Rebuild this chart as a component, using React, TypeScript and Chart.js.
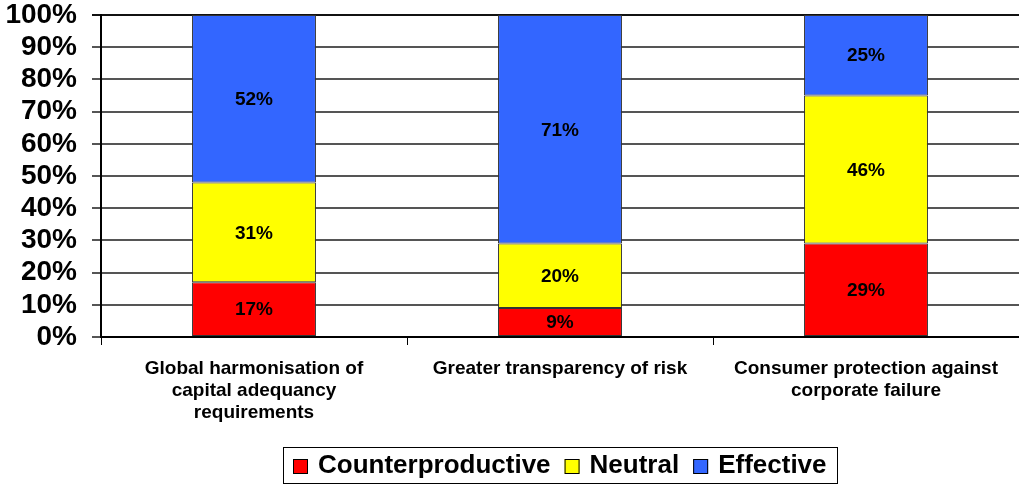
import React, { useEffect, useRef } from "react";
import { Chart, registerables } from "chart.js";

Chart.register(...registerables);

const categories: string[][] = [
  ["Global harmonisation of", "capital adequancy", "requirements"],
  ["Greater transparency of risk"],
  ["Consumer protection against", "corporate failure"],
];
const counterproductive = [17, 9, 29];
const neutral = [31, 20, 46];
const effective = [52, 71, 25];
const seriesNames = ["Counterproductive", "Neutral", "Effective"];
const seriesColors = ["#FF0000", "#FFFF00", "#3366FF"];
const yTicks = [0, 10, 20, 30, 40, 50, 60, 70, 80, 90, 100];

const FONT = "'Liberation Sans', Arial, sans-serif";

const valueLabels = {
  id: "valueLabels",
  afterDatasetsDraw(chart: any) {
    const ctx = chart.ctx;
    ctx.save();
    ctx.font = `bold 19px ${FONT}`;
    ctx.fillStyle = "#000";
    ctx.textAlign = "center";
    ctx.textBaseline = "middle";
    chart.data.datasets.forEach((ds: any, i: number) => {
      const meta = chart.getDatasetMeta(i);
      meta.data.forEach((el: any, j: number) => {
        const v = ds.data[j];
        ctx.fillText(`${v}%`, el.x, (el.y + el.base) / 2 + 1);
      });
    });
    ctx.restore();
  },
};

const boxLegend = {
  id: "boxLegend",
  afterDraw(chart: any) {
    const ctx = chart.ctx;
    const area = chart.chartArea;
    ctx.save();
    ctx.font = `bold 26px ${FONT}`;
    const sq = 15, gap = 10, gap2 = 14, pad = 10;
    const widths = seriesNames.map((n) => ctx.measureText(n).width);
    let total = pad * 2 + gap2 * (seriesNames.length - 1);
    widths.forEach((w) => (total += sq + gap + w));
    const cx = (area.left + area.right) / 2;
    const boxTop = 447, boxH = 36;
    const left = Math.round(cx - total / 2);
    const cy = boxTop + boxH / 2;
    ctx.strokeStyle = "#000";
    ctx.lineWidth = 1;
    ctx.strokeRect(left + 0.5, boxTop + 0.5, Math.round(total), boxH);
    let x = left + pad;
    ctx.textBaseline = "middle";
    ctx.textAlign = "left";
    seriesNames.forEach((n, i) => {
      const y0 = Math.round(cy - sq / 2) + 1;
      ctx.fillStyle = seriesColors[i];
      ctx.fillRect(x, y0, sq, sq);
      ctx.strokeStyle = "#000";
      ctx.strokeRect(x + 0.5, y0 + 0.5, sq - 1, sq - 1);
      x += sq + gap;
      ctx.fillStyle = "#000";
      ctx.fillText(n, x, cy + 1);
      x += widths[i] + gap2;
    });
    ctx.restore();
  },
};

export default function App() {
  const ref = useRef<HTMLCanvasElement>(null);
  useEffect(() => {
    if (!ref.current) return;
    const data = [counterproductive, neutral, effective];
    const chart = new Chart(ref.current, {
      type: "bar",
      data: {
        labels: categories,
        datasets: seriesNames.map((name, i) => ({
          label: name,
          data: data[i],
          backgroundColor: seriesColors[i],
          borderColor: "#333",
          borderWidth: 1,
          borderSkipped: false,
          categoryPercentage: 1,
          barPercentage: 0.405,
        })),
      },
      options: {
        responsive: false,
        animation: false,
        layout: { padding: { top: 15, right: 0, bottom: 0, left: 0 } },
        plugins: {
          legend: { display: false },
          tooltip: { enabled: false },
        },
        scales: {
          x: {
            stacked: true,
            grid: {
              display: true,
              drawOnChartArea: false,
              drawTicks: true,
              tickLength: 8,
              color: "#000",
              lineWidth: 1,
              offset: true,
            },
            border: { display: true, color: "#000", width: 2 },
            ticks: {
              color: "#000",
              padding: 13,
              maxRotation: 0,
              autoSkip: false,
              font: { family: FONT, size: 19, weight: "bold", lineHeight: 22 / 19 },
            },
            afterFit(scale: any) {
              scale.height = 149;
            },
          },
          y: {
            stacked: true,
            min: 0,
            max: 100,
            afterBuildTicks(scale: any) {
              scale.ticks = yTicks.map((v) => ({ value: v }));
            },
            grid: {
              color: (c: any) => (c.tick && c.tick.value === 100 ? "#111" : "#555"),
              lineWidth: 2,
              tickLength: 9,
              drawTicks: true,
            },
            border: { display: true, color: "#000", width: 2 },
            ticks: {
              color: "#000",
              padding: 15,
              autoSkip: false,
              callback: (v: any) => `${v}%`,
              font: { family: FONT, size: 28, weight: "bold", lineHeight: 1 },
            },
            afterFit(scale: any) {
              scale.width = 101;
              scale.paddingTop = 0;
              scale.paddingBottom = 0;
            },
          },
        },
      },
      plugins: [valueLabels, boxLegend],
    });
    return () => chart.destroy();
  }, []);
  return (
    <div style={{ position: "absolute", left: 0, top: 0, width: 1019, height: 486, background: "#fff" }}>
      <canvas ref={ref} width={1019} height={486} style={{ display: "block" }} />
    </div>
  );
}
